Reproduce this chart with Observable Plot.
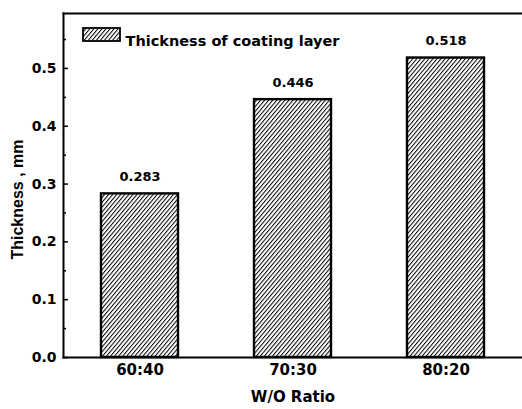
<!DOCTYPE html>
<html>
<head>
<meta charset="utf-8">
<script src="https://cdn.jsdelivr.net/npm/d3@7"></script>
<script src="https://cdn.jsdelivr.net/npm/@observablehq/plot@0.6"></script>
<style>
  html, body { margin: 0; padding: 0; background: #fff; }
  svg { font-family: "DejaVu Sans", Verdana, sans-serif; font-weight: bold; }
</style>
</head>
<body>
<div id="chart"></div>
<script>
const ratios = ["60:40", "70:30", "80:20"];
const thickness = [0.283, 0.446, 0.518];
const yMajorTicks = [0.0, 0.1, 0.2, 0.3, 0.4, 0.5];
const yMinorTicks = [0.05, 0.15, 0.25, 0.35, 0.45, 0.55];
const seriesName = "Thickness of coating layer";
const xTitle = "W/O Ratio";
const yTitle = "Thickness , mm";

const data = ratios.map((r, i) => ({ratio: r, value: thickness[i]}));

const plot = Plot.plot({
  width: 522,
  height: 409,
  marginTop: 13,
  marginLeft: 63,
  marginRight: 0,
  marginBottom: 52,
  style: {fontFamily: "DejaVu Sans, Verdana, sans-serif", fontSize: "14px", fontWeight: "bold", background: "#fff", color: "#000"},
  x: {domain: ratios, paddingInner: 0.5, paddingOuter: 0.25, label: null},
  y: {domain: [0, 0.595], label: null},
  marks: [
    Plot.barY(data, {x: "ratio", y: "value", fill: "url(#hatch)", stroke: "#000", strokeWidth: 2.4}),
    Plot.text(data, {x: "ratio", y: "value", text: d => d.value.toFixed(3), dy: -17, fontSize: 13, fontWeight: "bold", fill: "#000"}),
    Plot.axisY({ticks: yMajorTicks, tickSize: -5, tickPadding: 12, tickFormat: d => d.toFixed(1), fontSize: 14, fontWeight: "bold", label: null, strokeWidth: 1.5}),
    Plot.axisY({ticks: yMinorTicks, tickSize: -3, tickFormat: () => "", label: null, strokeWidth: 1.5}),
    Plot.axisX({tickSize: 0, tickPadding: 7, fontSize: 15, fontWeight: "bold", label: null}),
    Plot.frame({anchor: "top", strokeWidth: 2}),
    Plot.frame({anchor: "left", strokeWidth: 2}),
    Plot.frame({anchor: "bottom", strokeWidth: 2}),
    Plot.text([xTitle], {frameAnchor: "bottom", dy: 44, fontSize: 15, fontWeight: "bold", fill: "#000"}),
    Plot.text([yTitle], {frameAnchor: "left", textAnchor: "middle", dx: -46, dy: 14, rotate: -90, fontSize: 16, fontWeight: "bold", fontFamily: "Liberation Sans, Arial, sans-serif", fill: "#000"}),
    Plot.text([seriesName], {frameAnchor: "top-left", dx: 62, dy: 22, textAnchor: "start", fontSize: 14.5, fontWeight: "bold", fill: "#000"})
  ]
});

// hatch pattern + legend swatch
const svg = d3.select(plot);
const defs = svg.insert("defs", ":first-child");
const pat = defs.append("pattern")
  .attr("id", "hatch")
  .attr("patternUnits", "userSpaceOnUse")
  .attr("width", 3.1).attr("height", 3.1)
  .attr("patternTransform", "rotate(40)");
pat.append("rect").attr("width", 3.1).attr("height", 3.1).attr("fill", "#fff");
pat.append("line").attr("x1", 0.5).attr("y1", 0).attr("x2", 0.5).attr("y2", 3.1)
  .attr("stroke", "#000").attr("stroke-width", 1);

svg.append("rect")
  .attr("x", 83).attr("y", 28).attr("width", 37).attr("height", 13)
  .attr("fill", "url(#hatch)").attr("stroke", "#000").attr("stroke-width", 1.8);

document.getElementById("chart").appendChild(plot);
</script>
</body>
</html>
